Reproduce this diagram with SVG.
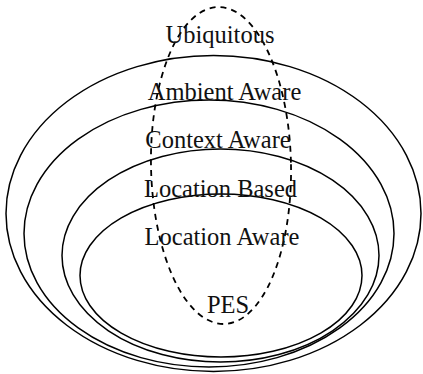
<svg xmlns="http://www.w3.org/2000/svg" width="423" height="374" viewBox="0 0 423 374">
  <style>
    .ring { fill: none; stroke: #000; stroke-width: 1.5; }
    .pes { fill: none; stroke: #000; stroke-width: 1.8; stroke-dasharray: 6 5; }
    .label { font-family: "Liberation Serif", "Times New Roman", serif; font-size: 24.5px; fill: #111; text-anchor: middle; }
  </style>
  <rect width="423" height="374" fill="#fff"/>

  <!-- nested awareness levels -->
  <g id="ambient-aware">
    <ellipse class="ring" cx="213.5" cy="213.5" rx="207.5" ry="158"/>
  </g>
  <g id="context-aware">
    <ellipse class="ring" cx="209" cy="233.5" rx="185" ry="133.5"/>
  </g>
  <g id="location-based">
    <ellipse class="ring" cx="220.5" cy="255.5" rx="158.5" ry="106.5"/>
  </g>
  <g id="location-aware">
    <ellipse class="ring" cx="221" cy="275.5" rx="141" ry="81.5"/>
  </g>

  <!-- PES boundary cutting through all levels -->
  <g id="pes-region">
    <ellipse class="pes" cx="221" cy="165.5" rx="70" ry="158.5" transform="rotate(-1.1 221 165.5)"/>
  </g>

  <g id="labels">
    <text class="label" x="220" y="43">Ubiquitous</text>
    <text class="label" x="224.5" y="100">Ambient Aware</text>
    <text class="label" x="218" y="148">Context Aware</text>
    <text class="label" x="220.5" y="197">Location Based</text>
    <text class="label" x="222" y="245">Location Aware</text>
    <text class="label" x="228" y="313">PES</text>
  </g>
</svg>
